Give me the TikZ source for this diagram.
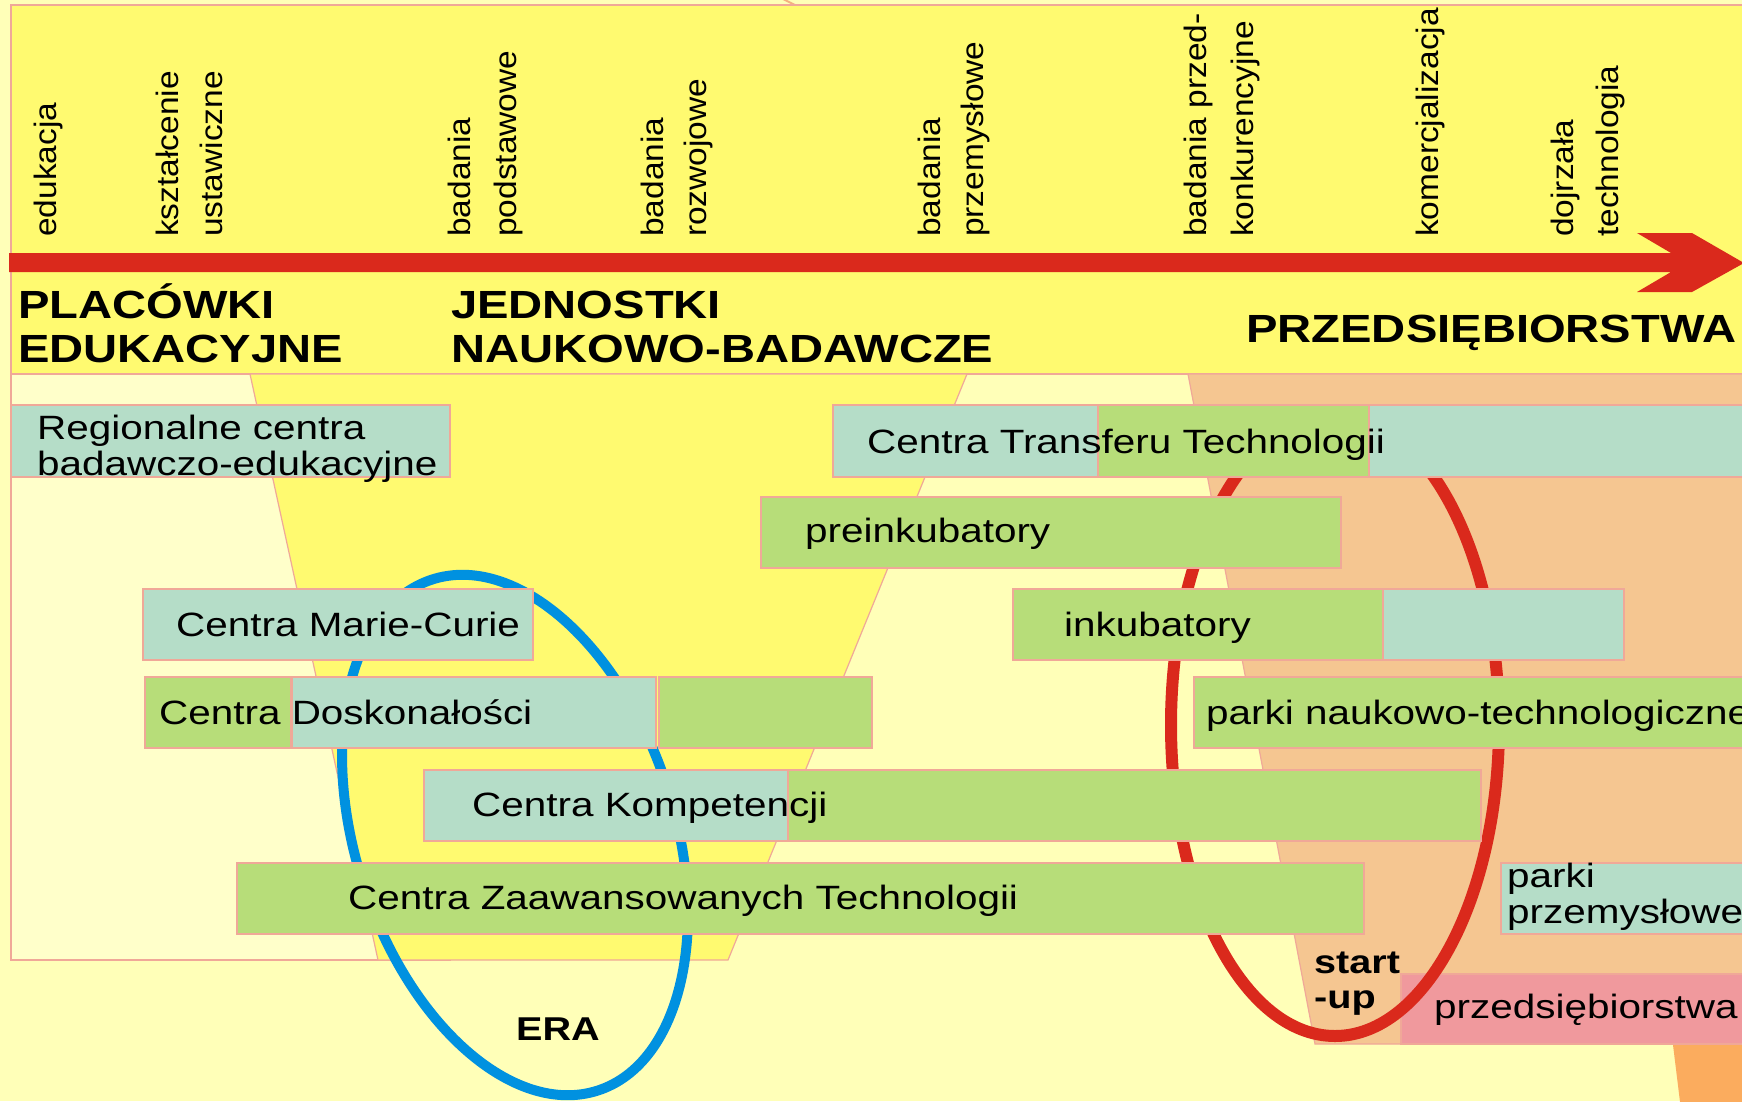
\documentclass[tikz,border=0pt]{standalone}
\usepackage{fontspec}
\setmainfont{Liberation Sans}
\newfontfamily\wfont[FakeStretch=1.2]{Liberation Sans}
\newfontfamily\lfont[FakeStretch=1.08]{Liberation Sans}
\newcommand\myboxfont{\wfont\fontsize{33.7}{36}\selectfont}
\newcommand\myheadfont{\wfont\bfseries\fontsize{39.3}{42}\selectfont}
\newcommand\mysmallbold{\wfont\bfseries\fontsize{33}{36}\selectfont}
\newcommand\mylabelfont{\lfont\fontsize{31}{33}\selectfont}
\definecolor{bgY}{HTML}{FFFFB8}
\definecolor{leftY}{HTML}{FFFFCA}
\definecolor{bandY}{HTML}{FFFA70}
\definecolor{lorange}{HTML}{F5C691}
\definecolor{dorange}{HTML}{FBAC5E}
\definecolor{tealc}{HTML}{B5DDC8}
\definecolor{greenc}{HTML}{B7DD79}
\definecolor{pinkc}{HTML}{F0999D}
\definecolor{bord}{HTML}{F0A898}
\definecolor{arrowred}{HTML}{DA291C}
\definecolor{blueE}{HTML}{0091E0}
\definecolor{tickc}{HTML}{F5B080}
\tikzset{
  tealbox/.style={fill=tealc, draw=bord, line width=1.2pt},
  greenbox/.style={fill=greenc, draw=bord, line width=1.2pt},
  pinkbox/.style={fill=pinkc, draw=bord, line width=1.2pt},
  region/.style={draw=bord, line width=1.2pt},
  boxtext/.style={inner sep=0pt, anchor=base west, font=\myboxfont},
  headtext/.style={inner sep=0pt, anchor=base west, font=\myheadfont},
  boldtext/.style={inner sep=0pt, anchor=base west, font=\mysmallbold},
  lbl/.style={inner sep=0pt, rotate=90, anchor=base west, font=\mylabelfont},
}
\begin{document}
\begin{tikzpicture}[x=1pt,y=-1pt]
\useasboundingbox (0,0) rectangle (1742,1101);
\clip (0,0) rectangle (1742,1101);
% background
\fill[bgY] (0,0) rectangle (1742,1101);
\draw[tickc, line width=2pt] (783,-1) -- (797,6);
% top band
\filldraw[fill=bandY, region] (11,5) rectangle (1760,374);
% left region
\filldraw[fill=leftY, region] (11,374) rectangle (450,960);
% funnel
\filldraw[fill=bandY, region] (250,374) -- (967,374) -- (728,960) -- (378,960) -- cycle;
% orange region
\filldraw[fill=lorange, region] (1188,374) -- (1760,374) -- (1760,1044) -- (1315,1044) -- cycle;
\fill[dorange] (1673,1045) -- (1760,1045) -- (1760,1110) -- (1681,1110) -- cycle;
% pink box
\filldraw[pinkbox] (1401,974) rectangle (1760,1044);
% red arrow
\fill[arrowred] (9,253) -- (1671,253) -- (1637,233) -- (1692,233) -- (1744,263) -- (1692,292) -- (1637,292) -- (1671,272) -- (9,272) -- cycle;
% vertical labels
\node[lbl] (l1) at (56,237) {edukacja};
\node[lbl] (l2) at (178,237) {kształcenie};
\node[lbl] (l3) at (222,237) {ustawiczne};
\node[lbl] (l4) at (470,237) {badania};
\node[lbl] (l5) at (516,237) {podstawowe};
\node[lbl] (l6) at (663,237) {badania};
\node[lbl] (l7) at (706,237) {rozwojowe};
\node[lbl] (l8) at (940,237) {badania};
\node[lbl] (l9) at (983,237) {przemysłowe};
\node[lbl] (l10) at (1206,237) {badania przed-};
\node[lbl] (l11) at (1253,237) {konkurencyjne};
\node[lbl] (l12) at (1438,237) {komercjalizacja};
\node[lbl] (l13) at (1573,237) {dojrzała};
\node[lbl] (l14) at (1618,237) {technologia};
% headings
\node[headtext] (h1) at (18,318) {PLACÓWKI};
\node[headtext] (h2) at (18,362) {EDUKACYJNE};
\node[headtext] (h3) at (451,318) {JEDNOSTKI};
\node[headtext] (h4) at (451,362) {NAUKOWO-BADAWCZE};
\node[headtext] (h5) at (1246,342) {PRZEDSIĘBIORSTWA};
% ellipses
\draw[blueE, line width=10pt, rotate around={18:(515,835)}] (515,835) ellipse [x radius=159.5pt, y radius=268.6pt];
\draw[arrowred, line width=12pt] (1335,725) ellipse [x radius=164pt, y radius=311pt];
% row 1
\filldraw[tealbox] (11,405) rectangle (450,477);
\filldraw[tealbox] (833,405) rectangle (1098,477);
\filldraw[greenbox] (1098,405) rectangle (1369,477);
\filldraw[tealbox] (1369,405) rectangle (1760,477);
% row 2
\filldraw[greenbox] (761,497) rectangle (1341,568);
% row 3
\filldraw[tealbox] (143,589) rectangle (533,660);
\filldraw[greenbox] (1013,589) rectangle (1383,660);
\filldraw[tealbox] (1383,589) rectangle (1624,660);
% row 4
\filldraw[greenbox] (145,677) rectangle (291,748);
\filldraw[tealbox] (292,677) rectangle (656,748);
\filldraw[greenbox] (659,677) rectangle (872,748);
\filldraw[greenbox] (1194,677) rectangle (1760,748);
% row 5
\filldraw[tealbox] (424,770) rectangle (788,841);
\filldraw[greenbox] (788,770) rectangle (1481,841);
% row 6
\filldraw[greenbox] (237,863) rectangle (1364,934);
\filldraw[tealbox] (1501,863) rectangle (1760,934);
% texts
\node[boxtext] (t1a) at (37,439) {Regionalne centra};
\node[boxtext] (t1b) at (37,475.5) {badawczo-edukacyjne};
\node[boxtext] (t2) at (867,453) {Centra Transferu Technologii};
\node[boxtext] (t3) at (805,542) {preinkubatory};
\node[boxtext] (t4) at (176,636) {Centra Marie-Curie};
\node[boxtext] (t5) at (1064,636) {inkubatory};
\node[boxtext] (t6) at (159,724) {Centra Doskonałości};
\node[boxtext] (t7) at (1206,724) {parki naukowo-technologiczne};
\node[boxtext] (t8) at (472,816) {Centra Kompetencji};
\node[boxtext] (t9) at (348,909) {Centra Zaawansowanych Technologii};
\node[boxtext] (t10a) at (1507,887) {parki};
\node[boxtext] (t10b) at (1507,923) {przemysłowe};
\node[boxtext] (t11) at (1434,1018) {przedsiębiorstwa};
\node[boldtext] (s1) at (1314,973) {start};
\node[boldtext] (s2) at (1314,1008) {-up};
\node[boldtext] (era) at (516,1040) {ERA};
\end{tikzpicture}
\end{document}
